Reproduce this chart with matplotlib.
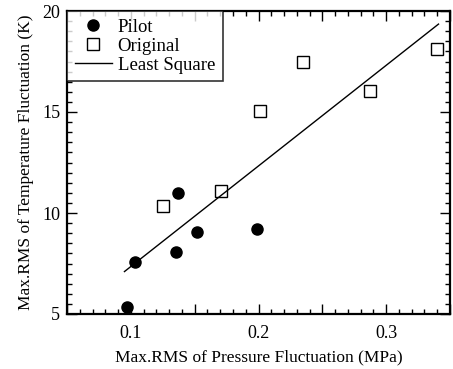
import matplotlib
matplotlib.use("Agg")
import matplotlib.pyplot as plt
import numpy as np
from matplotlib.ticker import MultipleLocator, FuncFormatter

plt.rcParams['font.family'] = ['Liberation Serif', 'DejaVu Serif']

# pilot runs
pilot_p = [0.097, 0.1035, 0.135, 0.137, 0.152, 0.199]
pilot_t = [5.33, 7.55, 8.05, 11.0, 9.05, 9.2]

# original runs
orig_p = [0.125, 0.171, 0.201, 0.235, 0.287, 0.340]
orig_t = [10.35, 11.1, 15.05, 17.5, 16.05, 18.1]

# least square line  T = a*P + b
fit_a = 49.8
fit_b = 2.37
fit_p = [0.095, 0.341]

x_labels = {0.1: '0.1', 0.2: '0.2', 0.3: '0.3'}

fig = plt.figure(figsize=(4.53, 3.69), dpi=100)
ax = fig.add_axes([67/453, 1 - 314/369, 383/453, 303/369])

ax.plot(pilot_p, pilot_t, 'o', color='black', markersize=8, label='Pilot')
ax.plot(orig_p, orig_t, 's', markerfacecolor='white', markeredgecolor='black',
        markeredgewidth=1.0, markersize=8, label='Original')
xs = np.array(fit_p)
ax.plot(xs, fit_a * xs + fit_b, '-', color='black', linewidth=1.0, label='Least Square')

ax.set_xlim(0.05, 0.35)
ax.set_ylim(5, 20)

ax.xaxis.set_major_locator(MultipleLocator(0.05))
ax.xaxis.set_minor_locator(MultipleLocator(0.01))
ax.xaxis.set_major_formatter(FuncFormatter(lambda v, pos: x_labels.get(round(v, 2), '')))
ax.yaxis.set_major_locator(MultipleLocator(5))
ax.yaxis.set_minor_locator(MultipleLocator(0.5))

ax.tick_params(which='both', direction='in', top=True, right=True, labelsize=13, width=1)
ax.tick_params(which='major', length=7)
ax.tick_params(which='minor', length=3.5)
ax.tick_params(axis='x', pad=8)
ax.tick_params(axis='y', pad=5)
for s in ax.spines.values():
    s.set_linewidth(1.6)

ax.set_xlabel('Max.RMS of Pressure Fluctuation (MPa)', fontsize=12.5, labelpad=5)
ax.set_ylabel('Max.RMS of Temperature Fluctuation (K)', fontsize=12.5, labelpad=6)

leg = ax.legend(loc='upper left', bbox_to_anchor=(0, 1), borderaxespad=0, fontsize=13.5,
                frameon=True, fancybox=False, edgecolor='black', handlelength=2.0,
                handletextpad=0.3, labelspacing=0.1, borderpad=0.4)
leg.get_frame().set_linewidth(1.2)

fig.savefig('out.png', dpi=100)
